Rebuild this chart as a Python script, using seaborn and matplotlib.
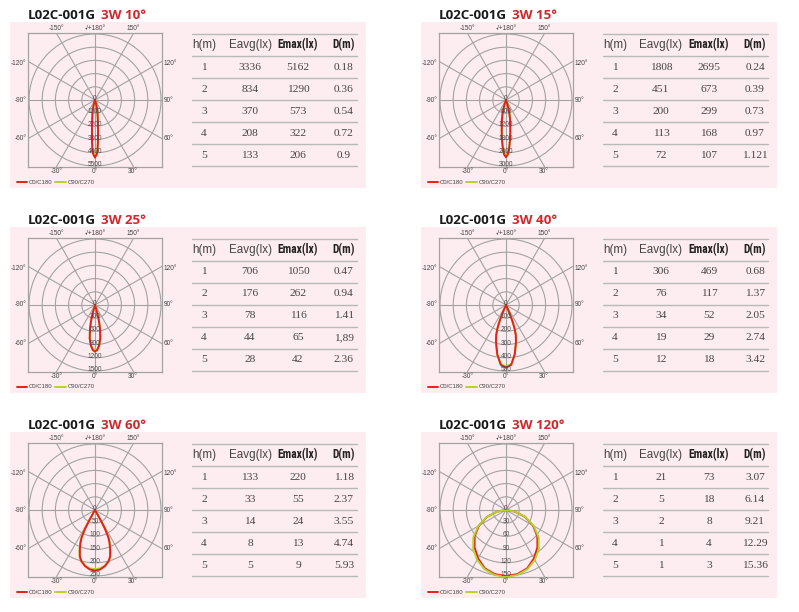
import numpy as np
import pandas as pd
import seaborn as sns
from matplotlib import pyplot as plt, patches, font_manager

# ---- data ----
MODEL = 'L02C-001G'
POWER = '3W'
BEAMS = ['10°', '15°', '25°', '40°', '60°', '120°']
RING_STEP = [1100, 600, 300, 100, 50, 30]
H_M = [1, 2, 3, 4, 5]
HEADERS = ['h(m)', 'Eavg(lx)', 'Emax(lx)', 'D(m)']

# half profiles (angle in degrees, intensity), mirrored for the other side
ANG_10 = [0, 2, 3, 4, 5, 6, 8, 10, 12, 14, 16, 18, 20]
C0_10 = [4800, 4500, 4150, 3500, 2900, 2400, 1700, 1250, 900, 600, 320, 120, 0]
C90_10 = [4650, 4380, 4080, 3480, 2900, 2420, 1720, 1260, 900, 600, 320, 120, 0]

ANG_15 = [0, 2, 4, 6, 8, 10, 12, 14, 16, 18, 20, 22]
C0_15 = [2600, 2480, 2150, 1780, 1400, 1100, 880, 640, 420, 220, 80, 0]
C90_15 = [2500, 2400, 2100, 1760, 1400, 1110, 890, 650, 430, 225, 85, 0]

ANG_25 = [0, 3, 6, 9, 12, 14, 15, 16, 17]
C0_25 = [1060, 1020, 920, 770, 545, 370, 240, 100, 0]
C90_25 = [1030, 1000, 910, 770, 550, 375, 245, 105, 0]

ANG_40 = [0, 5, 10, 15, 18, 20, 21, 22, 23, 24, 25]
C0_40 = [475, 455, 380, 292, 240, 190, 155, 115, 70, 30, 0]
C90_40 = [465, 450, 382, 298, 246, 195, 160, 118, 72, 31, 0]

ANG_60 = [0, 5, 10, 15, 18, 21, 24, 26, 28, 29, 30, 31]
C0_60 = [230, 226, 216, 200, 185, 160, 135, 115, 80, 40, 10, 0]
C90_60 = [224, 222, 214, 202, 189, 165, 139, 117, 81, 41, 10, 0]

ANG_120 = [0, 10, 20, 30, 40, 50, 60, 70, 80, 90]
C0_120 = [150, 148, 141, 127, 111, 93, 71, 46, 20, 0]
C90_120 = [152, 150, 143, 131, 116, 97, 73, 47, 20, 0]

EAVG_10 = [3336, 834, 370, 208, 133]
EMAX_10 = [5162, 1290, 573, 322, 206]
DIST_10 = ['0.18', '0.36', '0.54', '0.72', '0.9']
EAVG_15 = [1808, 451, 200, 113, 72]
EMAX_15 = [2695, 673, 299, 168, 107]
DIST_15 = ['0.24', '0.39', '0.73', '0.97', '1.121']
EAVG_25 = [706, 176, 78, 44, 28]
EMAX_25 = [1050, 262, 116, 65, 42]
DIST_25 = ['0.47', '0.94', '1.41', '1,89', '2.36']
EAVG_40 = [306, 76, 34, 19, 12]
EMAX_40 = [469, 117, 52, 29, 18]
DIST_40 = ['0.68', '1.37', '2.05', '2.74', '3.42']
EAVG_60 = [133, 33, 14, 8, 5]
EMAX_60 = [220, 55, 24, 13, 9]
DIST_60 = ['1.18', '2.37', '3.55', '4.74', '5.93']
EAVG_120 = [21, 5, 2, 1, 1]
EMAX_120 = [73, 18, 8, 4, 3]
DIST_120 = ['3.07', '6.14', '9.21', '12.29', '15.36']

panels = [
    (ANG_10, C0_10, C90_10, EAVG_10, EMAX_10, DIST_10),
    (ANG_15, C0_15, C90_15, EAVG_15, EMAX_15, DIST_15),
    (ANG_25, C0_25, C90_25, EAVG_25, EMAX_25, DIST_25),
    (ANG_40, C0_40, C90_40, EAVG_40, EMAX_40, DIST_40),
    (ANG_60, C0_60, C90_60, EAVG_60, EMAX_60, DIST_60),
    (ANG_120, C0_120, C90_120, EAVG_120, EMAX_120, DIST_120),
]

# ---- style ----
W, H = 799, 612
PINK = '#fdedf0'
GRID = '#a3a3a3'
RED = '#e3211c'
TITLE_RED = '#d3252b'
GREEN = '#b6d22c'
TXT = '#444444'

sns.set_theme(style='white')
plt.rcParams['font.family'] = ['Liberation Sans', 'DejaVu Sans']

installed = {f.name for f in font_manager.fontManager.ttflist}


def pick(*names):
    for n in names:
        if n in installed:
            return n
    return 'DejaVu Sans'


narrow = pick('Liberation Sans Narrow', 'Roboto Condensed', 'DejaVu Sans Condensed')
narrow_size = 8.3 if narrow != 'DejaVu Sans' else 6.0
title_font = pick('Open Sans', 'Noto Sans', 'DejaVu Sans')

fig = plt.figure(figsize=(W / 100, H / 100), dpi=100)
bg = fig.add_axes([0, 0, 1, 1])
bg.set_xlim(0, W)
bg.set_ylim(H, 0)
bg.axis('off')
renderer = fig.canvas.get_renderer()


def px_axes(x0, y0, w, h):
    return fig.add_axes([x0 / W, 1 - (y0 + h) / H, w / W, h / H])


def curve(ang, inten):
    ang = np.asarray(ang, float)
    inten = np.asarray(inten, float)
    th = np.deg2rad(np.concatenate([-ang[::-1], ang[1:]]))
    r = np.concatenate([inten[::-1], inten[1:]])
    return pd.DataFrame({'x': r * np.sin(th), 'y': -r * np.cos(th)})


for i, (ang, c0, c90, eavg, emax, dist) in enumerate(panels):
    ox, oy = (i % 2) * 411, (i // 2) * 205

    bg.add_patch(patches.Rectangle((10 + ox, 22 + oy), 356, 166, fc=PINK, ec='none', zorder=0))

    # title in two colours
    t = bg.text(28 + ox, 19 + oy, MODEL, fontsize=9.6, fontweight='bold', color='#1a1a1a',
                family=title_font, va='baseline')
    wpx = t.get_window_extent(renderer).width
    bg.text(28 + ox + wpx + 4.5, 19 + oy, f'{POWER} {BEAMS[i]}', fontsize=9.6, fontweight='bold',
            color=TITLE_RED, family=title_font, va='baseline')

    # legend
    bg.plot([17 + ox, 27 + ox], [182 + oy, 182 + oy], color=RED, lw=1.4)
    bg.text(29 + ox, 182 + oy, 'C0/C180', fontsize=4.3, color=TXT, va='center')
    bg.plot([55 + ox, 66 + ox], [182 + oy, 182 + oy], color=GREEN, lw=1.4)
    bg.text(68 + ox, 182 + oy, 'C90/C270', fontsize=4.3, color=TXT, va='center')

    # table
    for y in [34, 56, 78, 100, 122, 144, 166]:
        bg.plot([192 + ox, 357 + ox], [y + oy, y + oy], color='#b9b9b9', lw=1.0)
    cols = [204, 250, 298, 344]
    for j, head in enumerate(HEADERS):
        if j < 2:
            bg.text(cols[j] + ox, 45 + oy, head, fontsize=8.4, color=TXT, ha='center', va='center')
        else:
            bg.text(cols[j] + ox, 45 + oy, head, fontsize=narrow_size, color='#222222',
                    family=narrow, fontweight='bold', ha='center', va='center')
    for k in range(len(H_M)):
        yy = 67 + 22 * k + oy
        for j, v in enumerate([H_M[k], eavg[k], emax[k], dist[k]]):
            bg.text(cols[j] + ox, yy, str(v), fontsize=8.2, color=TXT, family='Liberation Serif',
                    ha='center', va='center')

    # polar diagram drawn in a square frame
    step = RING_STEP[i]
    rmax = step * 5
    rb = rmax * 67 / 66
    ax = px_axes(28 + ox, 33 + oy, 134, 134)
    ax.set_facecolor('none')
    ax.set_xlim(-rb, rb)
    ax.set_ylim(-rb, rb)
    ax.set_xticks([])
    ax.set_yticks([])
    for s in ax.spines.values():
        s.set_color(GRID)
        s.set_linewidth(0.9)
    for k in range(1, 6):
        ax.add_patch(patches.Circle((0, 0), step * k, fill=False, ec=GRID, lw=0.8, zorder=1))
    for a in range(0, 360, 30):
        ra = np.deg2rad(a)
        ax.plot([0, 2 * rb * np.sin(ra)], [0, -2 * rb * np.cos(ra)], color=GRID, lw=0.8, zorder=1)

    red_df, green_df = curve(ang, c0), curve(ang, c90)
    green_top = i == 5
    sns.lineplot(data=green_df, x='x', y='y', sort=False, estimator=None, color=GREEN,
                 lw=1.4, ax=ax, zorder=4 if green_top else 2)
    sns.lineplot(data=red_df, x='x', y='y', sort=False, estimator=None, color=RED,
                 lw=1.4, ax=ax, zorder=3)
    ax.set_xlabel('')
    ax.set_ylabel('')

    for k in range(6):
        ax.text(0, -step * k, str(step * k), fontsize=4.7, color='#4a4a4a', ha='center',
                va='baseline', zorder=5)

    fs = 4.7
    top, bot = 1.037, -0.037
    for x, lab in [(0.216, '-150°'), (0.5, '-/+180°'), (0.784, '150°')]:
        ax.text(x, top, lab, transform=ax.transAxes, fontsize=fs, color=TXT, ha='center', va='center')
    for x, lab in [(0.216, '-30°'), (0.5, '0°'), (0.784, '30°')]:
        ax.text(x, bot, lab, transform=ax.transAxes, fontsize=fs, color=TXT, ha='center', va='center')
    for y, a in [(0.776, 120), (0.5, 90), (0.216, 60)]:
        ax.text(-0.012, y, f'-{a}°', transform=ax.transAxes, fontsize=fs, color=TXT, ha='right', va='center')
        ax.text(1.012, y, f'{a}°', transform=ax.transAxes, fontsize=fs, color=TXT, ha='left', va='center')

fig.savefig('out.png', dpi=100)
